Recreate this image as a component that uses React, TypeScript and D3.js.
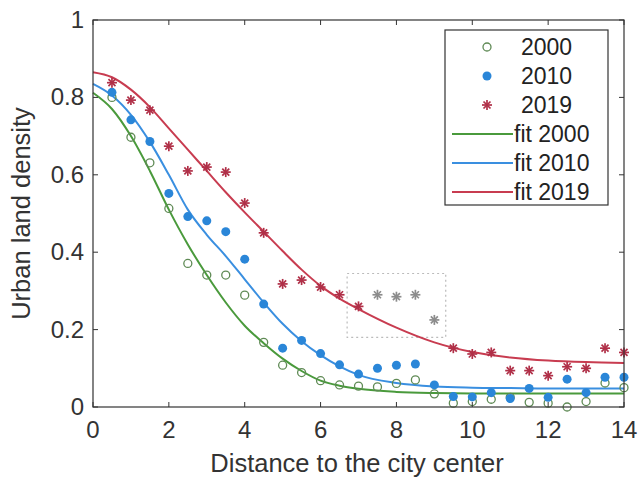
import React from 'react';
import * as d3 from 'd3';

// distance to the city center (km)
const distances = [0.5, 1, 1.5, 2, 2.5, 3, 3.5, 4, 4.5, 5, 5.5, 6, 6.5, 7, 7.5, 8, 8.5, 9, 9.5, 10, 10.5, 11, 11.5, 12, 12.5, 13, 13.5, 14];

const density2000 = [0.80, 0.697, 0.631, 0.513, 0.371, 0.341, 0.341, 0.289, 0.167, 0.108, 0.089, 0.068, 0.057, 0.054, 0.052, 0.061, 0.07, 0.034, 0.01, 0.014, 0.02, 0.025, 0.012, 0.01, 0.0, 0.014, 0.062, 0.05];
const density2010 = [0.813, 0.742, 0.686, 0.552, 0.492, 0.481, 0.453, 0.382, 0.266, 0.152, 0.172, 0.138, 0.109, 0.085, 0.10, 0.108, 0.111, 0.057, 0.027, 0.026, 0.037, 0.022, 0.048, 0.025, 0.072, 0.037, 0.077, 0.077];
const density2019 = [0.838, 0.793, 0.767, 0.674, 0.61, 0.62, 0.607, 0.527, 0.45, 0.318, 0.328, 0.31, 0.29, 0.26, 0.29, 0.285, 0.29, 0.225, 0.152, 0.137, 0.141, 0.094, 0.094, 0.081, 0.104, 0.10, 0.152, 0.141];
// 2019 points drawn in gray (inside the dotted box)
const outlierDistances = [7.5, 8, 8.5, 9];

// fitted curves
const fitDistances = [0, 0.5, 1, 1.5, 2, 2.5, 3, 3.5, 4, 4.5, 5, 5.5, 6, 6.5, 7, 8, 9, 10, 11, 12, 13, 14];
const fit2000 = [0.812, 0.77, 0.70, 0.61, 0.51, 0.42, 0.341, 0.27, 0.21, 0.165, 0.125, 0.093, 0.068, 0.055, 0.047, 0.039, 0.036, 0.035, 0.035, 0.035, 0.035, 0.035];
const fit2010 = [0.835, 0.805, 0.755, 0.685, 0.60, 0.51, 0.445, 0.39, 0.33, 0.27, 0.215, 0.17, 0.134, 0.105, 0.083, 0.062, 0.053, 0.05, 0.049, 0.048, 0.048, 0.048];
const fit2019 = [0.865, 0.852, 0.82, 0.775, 0.72, 0.665, 0.61, 0.555, 0.503, 0.453, 0.403, 0.355, 0.313, 0.28, 0.253, 0.205, 0.167, 0.142, 0.128, 0.12, 0.116, 0.114];

// dotted box around the gray points
const boxX = [6.7, 9.3];
const boxY = [0.18, 0.345];

const xTicks = [0, 2, 4, 6, 8, 10, 12, 14];
const yTicks = [0, 0.2, 0.4, 0.6, 0.8, 1];

const W = 640;
const H = 477;
const left = 93, right = 624, top = 20, bottom = 407;

const c2000 = '#5f8a55';
const c2010 = '#2a86d8';
const c2019 = '#b03048';
const f2000 = '#4a9a3c';
const f2010 = '#3a8fe0';
const f2019 = '#c83c50';
const axisColor = '#333';
const font = 'Liberation Sans, Arial, sans-serif';

const Star = ({ x, y, color }: { x: number; y: number; color: string }) => {
  const a = 5, d = 3.5;
  return (
    <g stroke={color} strokeWidth={1.7}>
      <line x1={x - a} y1={y} x2={x + a} y2={y} />
      <line x1={x} y1={y - a} x2={x} y2={y + a} />
      <line x1={x - d} y1={y - d} x2={x + d} y2={y + d} />
      <line x1={x - d} y1={y + d} x2={x + d} y2={y - d} />
    </g>
  );
};

const App = () => {
  const x = d3.scaleLinear().domain([0, 14]).range([left, right]);
  const y = d3.scaleLinear().domain([0, 1]).range([bottom, top]);

  const line = d3.line<number>()
    .x((_, i) => x(fitDistances[i]))
    .y(d => y(d))
    .curve(d3.curveMonotoneX);

  const legendRows = [
    { label: '2000', kind: 'circle' },
    { label: '2010', kind: 'dot' },
    { label: '2019', kind: 'star' },
    { label: 'fit 2000', kind: 'line', color: f2000 },
    { label: 'fit 2010', kind: 'line', color: f2010 },
    { label: 'fit 2019', kind: 'line', color: f2019 },
  ];

  return (
    <svg width={W} height={H} style={{ position: 'absolute', left: 0, top: 0, background: '#fff' }} fontFamily={font}>
      {/* dotted box */}
      <rect x={x(boxX[0])} y={y(boxY[1])} width={x(boxX[1]) - x(boxX[0])} height={y(boxY[0]) - y(boxY[1])}
        fill="none" stroke="#bbb" strokeWidth={1.2} strokeDasharray="2,3" />

      {/* fit lines */}
      <path d={line(fit2000) || ''} fill="none" stroke={f2000} strokeWidth={2} />
      <path d={line(fit2010) || ''} fill="none" stroke={f2010} strokeWidth={2} />
      <path d={line(fit2019) || ''} fill="none" stroke={f2019} strokeWidth={2} />

      {/* points */}
      {density2000.map((v, i) => (
        <circle key={'a' + i} cx={x(distances[i])} cy={y(v)} r={4} fill="none" stroke={c2000} strokeWidth={1.3} />
      ))}
      {density2010.map((v, i) => (
        <circle key={'b' + i} cx={x(distances[i])} cy={y(v)} r={4.5} fill={c2010} />
      ))}
      {density2019.map((v, i) => (
        <Star key={'c' + i} x={x(distances[i])} y={y(v)}
          color={outlierDistances.includes(distances[i]) ? '#8c8c8c' : c2019} />
      ))}

      {/* axes box */}
      <rect x={left} y={top} width={right - left} height={bottom - top} fill="none" stroke={axisColor} strokeWidth={1.2} />
      {xTicks.map(t => (
        <g key={'xt' + t}>
          <line x1={x(t)} x2={x(t)} y1={bottom} y2={bottom - 5} stroke={axisColor} />
          <line x1={x(t)} x2={x(t)} y1={top} y2={top + 5} stroke={axisColor} />
          <text x={x(t)} y={438} textAnchor="middle" fontSize={24} fill="#333">{t}</text>
        </g>
      ))}
      {yTicks.map(t => (
        <g key={'yt' + t}>
          <line x1={left} x2={left + 5} y1={y(t)} y2={y(t)} stroke={axisColor} />
          <line x1={right} x2={right - 5} y1={y(t)} y2={y(t)} stroke={axisColor} />
          <text x={84} y={y(t) + 8} textAnchor="end" fontSize={24} fill="#333">{t}</text>
        </g>
      ))}
      <text x={357} y={472} textAnchor="middle" fontSize={25.5} fill="#333">Distance to the city center</text>
      <text transform={`translate(30,${(top + bottom) / 2}) rotate(-90)`} textAnchor="middle" fontSize={25.5} fill="#333">Urban land density</text>

      {/* legend */}
      <rect x={445} y={30} width={163} height={175} fill="#fff" stroke={axisColor} strokeWidth={1.2} />
      {legendRows.map((r, i) => {
        const cy = 47 + i * 29;
        return (
          <g key={r.label}>
            {r.kind === 'circle' && <circle cx={487} cy={cy} r={4} fill="none" stroke={c2000} strokeWidth={1.3} />}
            {r.kind === 'dot' && <circle cx={487} cy={cy} r={4.5} fill={c2010} />}
            {r.kind === 'star' && <Star x={487} y={cy} color={c2019} />}
            {r.kind === 'line' && <line x1={452} x2={513} y1={cy} y2={cy} stroke={r.color} strokeWidth={2} />}
            <text x={r.kind === 'line' ? 514 : 521} y={cy + 8} fontSize={23} fill="#222">{r.label}</text>
          </g>
        );
      })}
    </svg>
  );
};

export default App;
